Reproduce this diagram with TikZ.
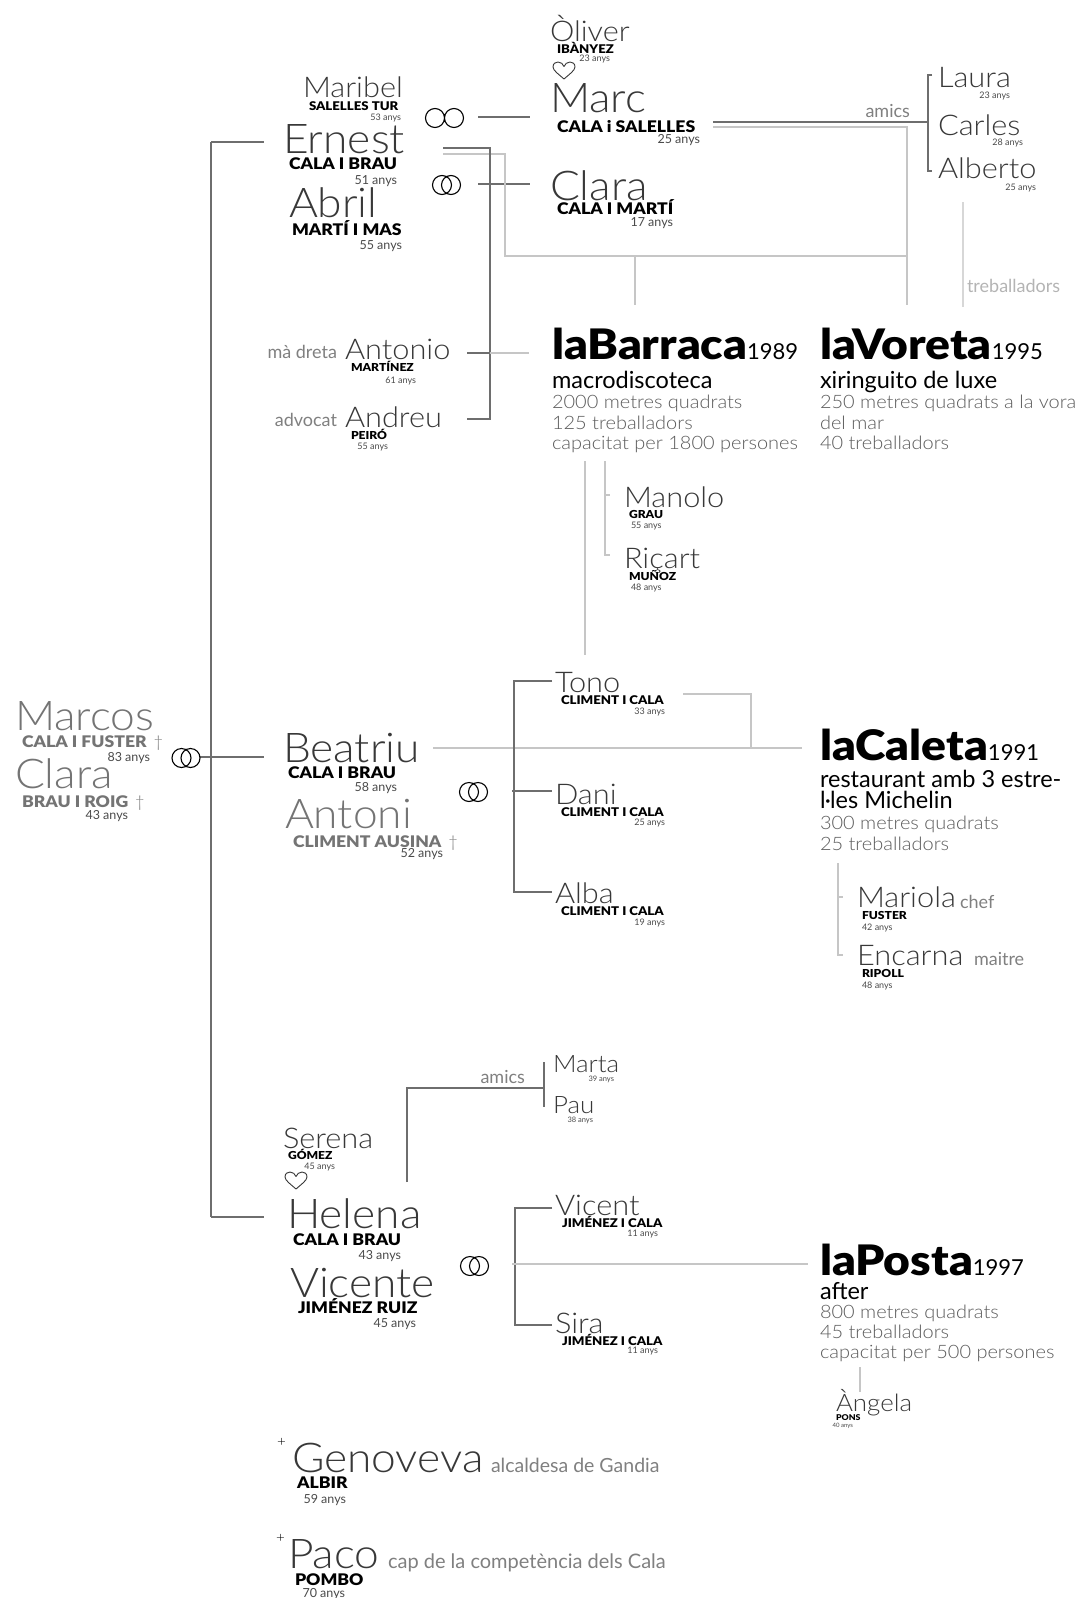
\documentclass[tikz,border=0pt]{standalone}
\usepackage{fontspec}
\setmainfont{Lato}
\newfontfamily\fina{Lato Light}[FakeStretch=1.08]
\newfontfamily\negra{Lato Black}[FakeStretch=1.1]
\usetikzlibrary{positioning}
\definecolor{tinta}{HTML}{383838}
\definecolor{grisMort}{HTML}{747474}
\definecolor{grisEdat}{HTML}{4A4A4A}
\definecolor{grisEtiq}{HTML}{808080}
\definecolor{grisClar}{HTML}{B4B4B4}
\definecolor{grisDet}{HTML}{5C5C5C}
\definecolor{fosc}{HTML}{6E6E6E}
\definecolor{clar}{HTML}{C6C6C6}

\begin{document}
\begin{tikzpicture}[x=1pt, y=-1pt,
  every node/.style={inner sep=0pt, outer sep=0pt},
  nom/.style={font=\fina\fontsize{41}{41}\selectfont, text=tinta, anchor=base west},
  nomm/.style={font=\fina\fontsize{28.5}{28.5}\selectfont, text=tinta, anchor=base west},
  nomp/.style={font=\fina\fontsize{24}{24}\selectfont, text=tinta, anchor=base west},
  cog/.style={font=\negra\fontsize{16}{16}\selectfont, anchor=base west},
  cogm/.style={font=\negra\fontsize{12}{12}\selectfont, anchor=base west},
  cogp/.style={font=\negra\fontsize{11}{11}\selectfont, anchor=base west},
  edat/.style={font=\fontsize{12.5}{12.5}\selectfont, text=grisEdat, anchor=base east},
  edatp/.style={font=\fontsize{9}{9}\selectfont, text=grisEdat, anchor=base east},
  viu/.style={},
  difunt/.style={text=grisMort},
  etiq/.style={font=\fontsize{18}{18}\selectfont, text=grisEtiq},
  titol/.style={font=\negra\fontsize{42}{42}\selectfont, anchor=base west},
  sub/.style={font=\fontsize{23.5}{23.5}\selectfont, anchor=base west},
  det/.style={font=\fina\fontsize{18.5}{18.5}\selectfont, text=grisDet, anchor=base west},
  linia/.style={draw=fosc, line width=2pt},
  fil/.style={draw=clar, line width=1.5pt},
  anell/.style={draw=black, line width=1.1pt},
  cor/.pic={\draw[line width=0.9pt, draw=tinta, line join=round]
    (0,8) .. controls (-5,3.5) and (-11,-0.5) .. (-11,-4)
    .. controls (-11,-7.5) and (-8.5,-9) .. (-6,-9)
    .. controls (-3,-9) and (-1,-7) .. (0,-4.5)
    .. controls (1,-7) and (3,-9) .. (6,-9)
    .. controls (8.5,-9) and (11,-7.5) .. (11,-4)
    .. controls (11,-0.5) and (5,3.5) .. (0,8);}]

  \fill[white] (0,0) rectangle (1084,1598);
  \useasboundingbox (0,0) rectangle (1084,1598);

  % punts d'unio
  \foreach \nm/\px/\py in {tronc-n/211/142, tronc-s/211/1217, ernest-w/264/142,
      marcos-r/200/757, beatriu-w/264/757, helena-w/264/1217,
      oo-e/478/117, marc-w/530/117, aa-e/478/184, clara-w/530/184,
      ernest-d/443/148, colze-a/490/419, andreu-e/467/419, antonio-e/467/353,
      antonio-j/490/353, barraca-w/529/353, ernest-l/443/154, colze-l/505/256,
      voreta-j/907/256, barraca-j/635/256, barraca-n/635/305, marc-l/713/127,
      voreta-n/907/305, marc-d/713/122, amics-j/928/122, amics-n/928/75,
      amics-s/928/171, treb-n/963/202, treb-s/963/307, barraca-s/585/461,
      tono-j/585/655, obrers-n/605/461, manolo-w/610/495, ricart-w/610/555,
      beatriu-l/433/748, caleta-w/802/748, tono-l/683/694, tono-c/751/748,
      tono-w/552/681, fills-s/514/892, alba-w/552/892, dani-r/512/791,
      dani-w/552/791, caleta-s/838/863, mariola-w/843/897, encarna-w/843/955,
      serena-j/407/1182, amics2-j/544/1088, amics2-n/544/1062, amics2-s/544/1107,
      vicent-w/552/1208, fills2-s/515/1325, sira-w/552/1325, helena-r/512/1264,
      posta-w/808/1264, posta-s/860/1367, angela-n/860/1392}
    \coordinate (\nm) at (\px,\py);

  % linies
  \draw[linia] (tronc-n) -- (tronc-s);
  \draw[linia] (tronc-n) -- (ernest-w);
  \draw[linia] (marcos-r) -- (beatriu-w);
  \draw[linia] (tronc-s) -- (helena-w);
  \draw[linia] (oo-e) -- (marc-w);
  \draw[linia] (aa-e) -- (clara-w);
  \draw[fil] (ernest-l) -| (colze-l) -- (voreta-j);
  \draw[fil] (barraca-j) -- (barraca-n);
  \draw[fil] (marc-l) -| (voreta-n);
  \draw[linia] (ernest-d) -| (colze-a) -- (andreu-e);
  \draw[linia] (antonio-e) -- (antonio-j);
  \draw[fil] (antonio-j) -- (barraca-w);
  \draw[linia] (marc-d) -- (amics-j);
  \draw[linia] ([xshift=4pt]amics-n) -- (amics-n) -- (amics-s) -- ([xshift=4pt]amics-s);
  \draw[fil, draw=clar!70] (treb-n) -- (treb-s);
  \draw[fil] (barraca-s) -- (tono-j);
  \draw[fil] (obrers-n) |- (ricart-w);
  \draw[fil] (obrers-n |- manolo-w) -- (manolo-w);
  \draw[fil] (beatriu-l) -- (caleta-w);
  \draw[fil] (tono-l) -| (tono-c);
  \draw[linia] (tono-w) -| (fills-s) -- (alba-w);
  \draw[linia] (dani-r) -- (dani-w);
  \draw[fil] (caleta-s) |- (encarna-w);
  \draw[fil] (caleta-s |- mariola-w) -- (mariola-w);
  \draw[linia] (serena-j) |- (amics2-j);
  \draw[linia] (amics2-n) -- (amics2-s);
  \draw[linia] (vicent-w) -| (fills2-s) -- (sira-w);
  \draw[fil] (helena-r) -- (posta-w);
  \draw[fil] (posta-s) -- (angela-n);

  % anells i cors
  \draw[anell] (181.5,758) circle[radius=9.5pt] (190.5,758) circle[radius=9.5pt];
  \draw[anell] (435,118) circle[radius=9.5pt] (454,118) circle[radius=9.5pt];
  \draw[anell] (442,185) circle[radius=9.5pt] (451,185) circle[radius=9.5pt];
  \draw[anell] (469,792) circle[radius=9.5pt] (478,792) circle[radius=9.5pt];
  \draw[anell] (470,1266) circle[radius=9.5pt] (479,1266) circle[radius=9.5pt];
  \pic (cor-oliver) at (564,71) {cor};
  \pic (cor-serena) at (296,1181) {cor};

  % noms
  \foreach \nm/\px/\py/\tx/\st in {ernest/283/153/Ernest/viu, abril/289/217/Abril/viu,
      marc/550/112/Marc/viu, clara/550/200/Clara/viu, marcos/15/730/Marcos/difunt,
      clarab/15/788/Clara/difunt, beatriu/283/762/Beatriu/viu, antoni/285/828/Antoni/difunt,
      helena/287/1228/Helena/viu, vicente/290/1297/Vicente/viu,
      genoveva/292/1472/Genoveva/viu, paco/288/1568/Paco/viu}
    \node[nom, \st] (\nm) at (\px,\py) {\tx};
  \foreach \nm/\px/\py/\tx in {maribel/303/97/Maribel, oliver/550/41/Òliver,
      laura/938/87/Laura, carles/938/135/Carles, alberto/938/178/Alberto,
      antonio/345/359/Antonio, andreu/345/427/Andreu, manolo/624/507/Manolo,
      ricart/624/568/Riçart, tono/555/692/Tono, dani/555/804/Dani, alba/555/903/Alba,
      mariola/857/907/Mariola, encarna/857/965/Encarna, serena/283/1148/Serena,
      vicent/555/1215/Vicent, sira/555/1333/Sira}
    \node[nomm] (\nm) at (\px,\py) {\tx};
  \foreach \nm/\px/\py/\tx in {marta/553/1072/Marta, pau/553/1113/Pau, angela/836/1411/Àngela}
    \node[nomp] (\nm) at (\px,\py) {\tx};
  \node[font=\fina\fontsize{14}{14}\selectfont, anchor=base west] (genoveva-mes) at (277,1446) {+};
  \node[font=\fina\fontsize{14}{14}\selectfont, anchor=base west] (paco-mes) at (276,1542) {+};

  % cognoms
  \foreach \nm/\px/\py/\tx/\st in {ernest-c/289/169/CALA I BRAU/viu,
      abril-c/292/235/MARTÍ I MAS/viu, marc-c/557/132/CALA i SALELLES/viu,
      clara-c/557/214/CALA I MARTÍ/viu, marcos-c/22/747/{CALA I FUSTER {\fina\,†}}/difunt,
      clarab-c/22/807/{BRAU I ROIG {\fina\,†}}/difunt, beatriu-c/288/778/CALA I BRAU/viu,
      antoni-c/293/847/{CLIMENT AUSINA {\fina\,†}}/difunt, helena-c/293/1245/CALA I BRAU/viu,
      vicente-c/298/1313/JIMÉNEZ RUIZ/viu, genoveva-c/297/1488/ALBIR/viu,
      paco-c/295/1585/POMBO/viu}
    \node[cog, \st] (\nm) at (\px,\py) {\tx};
  \foreach \nm/\px/\py/\tx in {oliver-c/557/53/IBÀNYEZ, maribel-c/309/110/SALELLES TUR,
      tono-c/561/704/CLIMENT I CALA, dani-c/561/816/CLIMENT I CALA,
      alba-c/561/915/CLIMENT I CALA, vicent-c/562/1227/JIMÉNEZ I CALA,
      sira-c/562/1345/JIMÉNEZ I CALA}
    \node[cogm] (\nm) at (\px,\py) {\tx};
  \foreach \nm/\px/\py/\tx in {antonio-c/351/371/MARTÍNEZ, andreu-c/351/439/PEIRÓ,
      manolo-c/629/518/GRAU, ricart-c/629/580/MUÑOZ, mariola-c/862/919/FUSTER,
      encarna-c/862/977/RIPOLL, serena-c/288/1159/GÓMEZ}
    \node[cogp] (\nm) at (\px,\py) {\tx};
  \node[font=\negra\fontsize{8}{8}\selectfont, anchor=base west] (angela-c) at (836,1420) {PONS};

  % edats
  \foreach \nm/\px/\py/\tx in {ernest-e/397/184/51, abril-e/402/249/55, marc-e/700/143/25,
      clara-e/673/226/17, marcos-e/150/761/83, clarab-e/128/819/43, beatriu-e/397/791/58,
      antoni-e/443/857/52, helena-e/401/1259/43, vicente-e/416/1327/45,
      genoveva-e/346/1503/59, paco-e/345/1597/70}
    \node[edat] (\nm) at (\px,\py) {\tx{} anys};
  \foreach \nm/\px/\py/\tx in {oliver-e/610/61/23, maribel-e/401/120/53, antonio-e/416/383/61,
      andreu-e/388/449/55, laura-e/1010/98/23, carles-e/1023/145/28, alberto-e/1036/190/25,
      tono-e/665/714/33, dani-e/665/825/25, alba-e/665/925/19, serena-e/335/1169/45,
      vicent-e/658/1236/11, sira-e/658/1353/11}
    \node[edatp] (\nm) at (\px,\py) {\tx{} anys};
  \foreach \nm/\px/\py/\tx in {manolo-e/631/528/55, ricart-e/631/590/48,
      mariola-e/862/930/42, encarna-e/862/988/48}
    \node[edatp, anchor=base west] (\nm) at (\px,\py) {\tx{} anys};
  \node[edatp, font=\fontsize{7.5}{7.5}\selectfont] (marta-e) at (614,1081) {39 anys};
  \node[edatp, font=\fontsize{7.5}{7.5}\selectfont] (pau-e) at (593,1122) {38 anys};
  \node[edatp, font=\fontsize{6}{6}\selectfont] (angela-e) at (853,1427) {40 anys};

  % etiquetes
  \node[etiq, anchor=base east] (amics) at (910,117) {amics};
  \node[etiq, anchor=base west, text=grisClar] (treballadors) at (967,292) {treballadors};
  \node[etiq, anchor=base east] (madreta) at (337,358) {mà dreta};
  \node[etiq, anchor=base east] (advocat) at (337,426) {advocat};
  \node[etiq, anchor=base west] (chef) at (960,908) {chef};
  \node[etiq, anchor=base west] (maitre) at (974,965) {maitre};
  \node[etiq, anchor=base east] (amics2) at (525,1083) {amics};
  \node[etiq, anchor=base west, font=\fontsize{19.5}{19.5}\selectfont] (alcaldesa) at (491,1472) {alcaldesa de Gandia};
  \node[etiq, anchor=base west, font=\fontsize{20}{20}\selectfont] (competencia) at (388,1568) {cap de la competència dels Cala};

  % locals
  \node[titol] (barraca) at (552,359) {laBarraca{\normalfont\fontsize{22}{22}\selectfont 1989}};
  \node[sub] (barraca-sub) at (552,388) {macrodiscoteca};
  \foreach \tx [count=\i] in {2000 metres quadrats, 125 treballadors, capacitat per 1800 persones}
    \node[det] (barraca-\i) at (552,388+20.5*\i) {\tx};
  \node[titol] (voreta) at (820,359) {laVoreta{\normalfont\fontsize{22}{22}\selectfont 1995}};
  \node[sub] (voreta-sub) at (820,388) {xiringuito de luxe};
  \foreach \tx [count=\i] in {250 metres quadrats a la vora, del mar, 40 treballadors}
    \node[det] (voreta-\i) at (820,388+20.5*\i) {\tx};
  \node[titol] (caleta) at (820,760) {laCaleta{\normalfont\fontsize{22}{22}\selectfont 1991}};
  \node[sub] (caleta-sub) at (820,787) {restaurant amb 3 estre-};
  \node[sub] (caleta-sub2) at (820,808) {l·les Michelin};
  \foreach \tx [count=\i] in {300 metres quadrats, 25 treballadors}
    \node[det] (caleta-\i) at (820,809+20.5*\i) {\tx};
  \node[titol] (posta) at (820,1275) {laPosta{\normalfont\fontsize{22}{22}\selectfont 1997}};
  \node[sub] (posta-sub) at (820,1299) {after};
  \foreach \tx [count=\i] in {800 metres quadrats, 45 treballadors, capacitat per 500 persones}
    \node[det] (posta-\i) at (820,1298+20.3*\i) {\tx};
\end{tikzpicture}
\end{document}
